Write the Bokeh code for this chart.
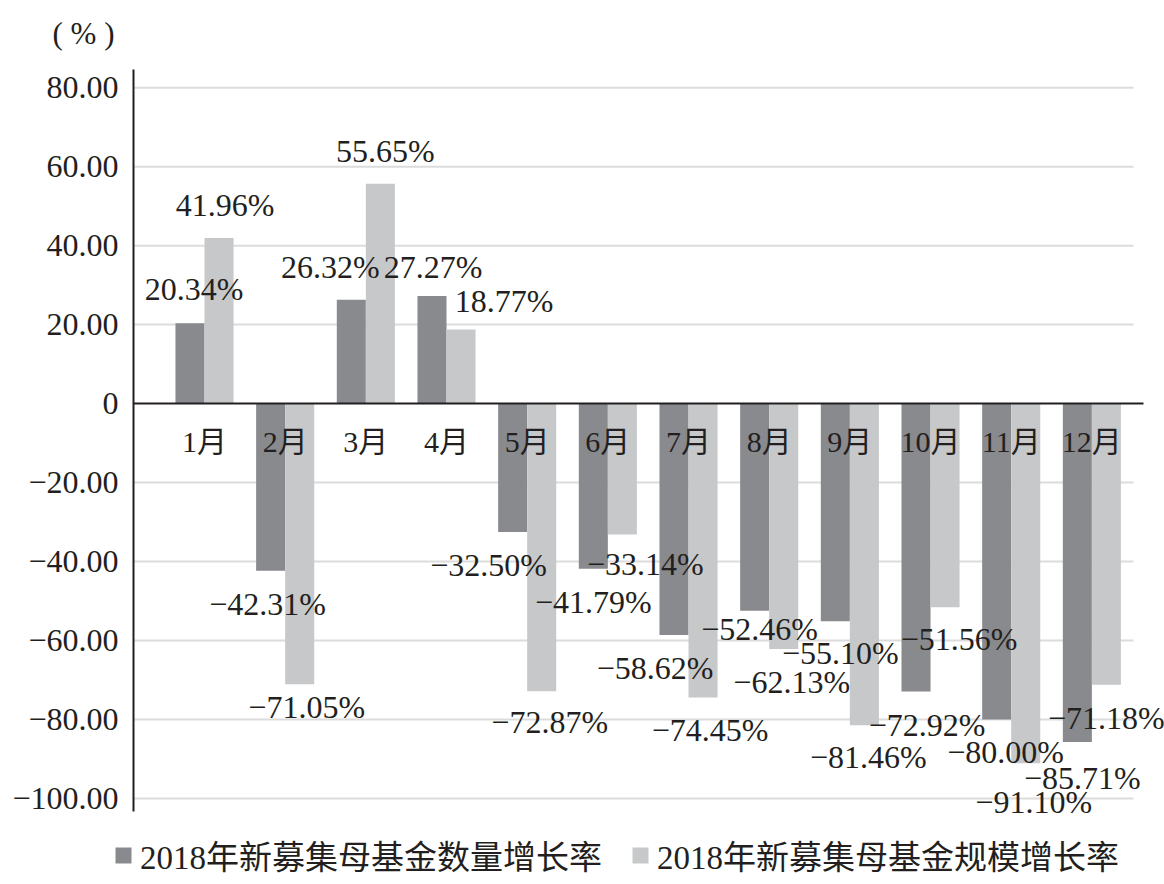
from bokeh.plotting import figure
from bokeh.models import ColumnDataSource, Legend, LegendItem, Range1d
from bokeh.core.properties import value
from bokeh.embed import file_html
from bokeh.resources import INLINE

# ---------------- data ----------------
months = ["1月", "2月", "3月", "4月", "5月", "6月", "7月", "8月", "9月", "10月", "11月", "12月"]
count_growth = [20.34, -42.31, 26.32, 27.27, -32.50, -41.79, -58.62, -52.46, -55.10, -72.92, -80.00, -85.71]
size_growth = [41.96, -71.05, 55.65, 18.77, -72.87, -33.14, -74.45, -62.13, -81.46, -51.56, -91.10, -71.18]
series_names = ["2018年新募集母基金数量增长率", "2018年新募集母基金规模增长率"]
y_ticks = [-100, -80, -60, -40, -20, 0, 20, 40, 60, 80]
unit_label = "( % )"

# ---------------- layout / style ----------------
DARK = "#898a8d"
LIGHT = "#c7c8ca"
TEXT = "#231f20"
GRID = "#dcdcdc"
SERIF = "Liberation Serif"
MIXED = "Liberation Serif, Noto Sans CJK SC"
BAR_W = 0.36
W, H = 1164, 884
PX_X = 80.67          # px per category
X0_PX = 204           # px of first category centre
PX_Y = 3.949          # px per percentage point
Y0_PX = 403.1         # px of the zero line
X_LEFT = -X0_PX / PX_X
X_RIGHT = (W - X0_PX) / PX_X
Y_TOP = Y0_PX / PX_Y
Y_BOTTOM = -(H - Y0_PX) / PX_Y
AXIS_X = (133 - X0_PX) / PX_X
AXIS_TOP, AXIS_BOTTOM = 84.6, -103.3
GRID_END = (1133 - X0_PX) / PX_X
ZERO_END = (1143 - X0_PX) / PX_X
UNIT_X, UNIT_Y = (83 - X0_PX) / PX_X, (Y0_PX - 33) / PX_Y

# label placement tweaks (screen px): horizontal shift and distance from bar end
count_dx = [4, -3, -21, 1, -24, 0, -19, 5, 5, 11, 9, 5]
count_dy = [34, 33, 33, 29, 33, 33, 33, 18, 32, 33, 32, 36]
size_dx = [6, 7, 5, 43, 8, 23, 7, 8, 4, 14, 8, 0]
size_dy = [33, 23, 33, 28, 31, 30, 32, 33, 32, 32, 39, 33]


def fmt_tick(v):
    return "0" if v == 0 else f"{v:.2f}".replace("-", "\u2212")


def fmt_pct(v):
    return f"{v:.2f}%".replace("-", "\u2212")


idx = list(range(len(months)))
x_dark = [i - BAR_W / 2 for i in idx]
x_light = [i + BAR_W / 2 for i in idx]

src_dark = ColumnDataSource(dict(
    x=x_dark, top=count_growth,
    label=[fmt_pct(v) for v in count_growth],
    dx=count_dx,
    dy=[-d if v >= 0 else d for v, d in zip(count_growth, count_dy)],
))
src_light = ColumnDataSource(dict(
    x=x_light, top=size_growth,
    label=[fmt_pct(v) for v in size_growth],
    dx=size_dx,
    dy=[-d if v >= 0 else d for v, d in zip(size_growth, size_dy)],
))

p = figure(width=W, height=H, output_backend="svg", toolbar_location=None,
           x_range=Range1d(X_LEFT, X_RIGHT), y_range=Range1d(Y_BOTTOM, Y_TOP),
           x_axis_location=None, y_axis_location=None,
           min_border=0)
p.outline_line_color = None
p.xgrid.visible = False
p.ygrid.visible = False
p.background_fill_color = "white"
p.border_fill_color = "white"

# horizontal gridlines (stop short of the right edge like the original)
grid_vals = [t for t in y_ticks if t != 0]
p.segment(x0=[AXIS_X] * len(grid_vals), x1=[GRID_END] * len(grid_vals),
          y0=grid_vals, y1=grid_vals, line_color=GRID, line_width=2)

# bars
r_dark = p.vbar(x="x", top="top", bottom=0, width=BAR_W, source=src_dark,
                fill_color=DARK, line_color=None)
r_light = p.vbar(x="x", top="top", bottom=0, width=BAR_W, source=src_light,
                 fill_color=LIGHT, line_color=None)

# zero line and value axis line
p.segment(x0=[AXIS_X], x1=[ZERO_END], y0=[0], y1=[0], line_color=TEXT, line_width=2)
p.segment(x0=[AXIS_X], x1=[AXIS_X], y0=[AXIS_BOTTOM], y1=[AXIS_TOP], line_color=TEXT, line_width=2)

# value-axis tick labels
p.text(x=[AXIS_X] * len(y_ticks), y=y_ticks, text=[fmt_tick(t) for t in y_ticks],
       x_offset=-15, text_align="right", text_baseline="middle",
       text_font=value(SERIF), text_font_size="32px", text_color=TEXT)

# unit
p.text(x=[UNIT_X], y=[UNIT_Y], text=[unit_label], text_align="center", text_baseline="middle",
       text_font=value(SERIF), text_font_size="31px", text_color=TEXT)

# month labels
p.text(x=idx, y=[0] * len(idx), text=months, y_offset=38,
       text_align="center", text_baseline="middle",
       text_font=value(MIXED), text_font_size="30px", text_color=TEXT)

# value labels
for src in (src_dark, src_light):
    p.text(x="x", y="top", text="label", x_offset="dx", y_offset="dy", source=src,
           text_align="center", text_baseline="middle",
           text_font=value(SERIF), text_font_size="32px", text_color=TEXT)

legend = Legend(items=[LegendItem(label=series_names[0], renderers=[r_dark]),
                       LegendItem(label=series_names[1], renderers=[r_light])],
                location=(113, 5), orientation="horizontal",
                glyph_width=20, glyph_height=20, label_standoff=7, spacing=28,
                padding=0, margin=0, border_line_color=None, background_fill_alpha=0,
                label_text_font=MIXED, label_text_font_size="33px", label_text_color=TEXT)
p.add_layout(legend)

open("out.html", "w").write(file_html(p, INLINE))
